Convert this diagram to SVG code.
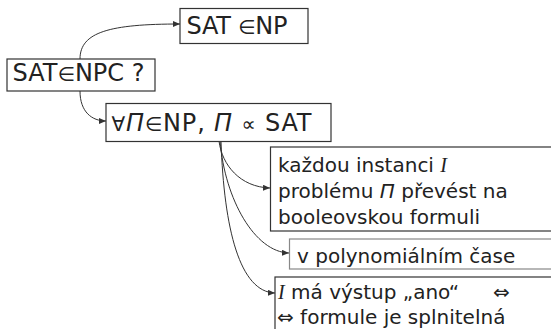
<svg xmlns="http://www.w3.org/2000/svg" width="551" height="329" viewBox="0 0 551 329">
<style>
.box{fill:#fff;stroke:#333;stroke-width:1.2}
.box2{fill:#fff;stroke:#888;stroke-width:1.2}
.t{font-family:"DejaVu Sans",Verdana,sans-serif;fill:#222}
.big{font-size:24px}
.sm{font-size:20px}
.sym{font-size:20px}
.it{font-style:italic}
.ser{font-family:"Liberation Serif","DejaVu Serif",serif;font-style:italic}
.c{fill:none;stroke:#333;stroke-width:1}
</style>
<defs>
<marker id="ah" markerWidth="7" markerHeight="6" refX="7" refY="3" orient="auto" markerUnits="userSpaceOnUse">
<path d="M0,0 L7,3 L0,6 z" fill="#333"/>
</marker>
</defs>
<g id="connectors">
<path class="c" d="M80,59 C80,32 110,24 180,24" marker-end="url(#ah)"/>
<path class="c" d="M80,91 C80,112 92,121 106,121" marker-end="url(#ah)"/>
<path class="c" d="M219,141 C222,165 240,187 270,188" marker-end="url(#ah)"/>
<path class="c" d="M220,141 C225,200 255,252 289,253" marker-end="url(#ah)"/>
<path class="c" d="M221,141 C224,230 240,292 275,293" marker-end="url(#ah)"/>
</g>
<g id="n1">
<rect class="box" x="180" y="8.5" width="128" height="35"/>
<text class="t big" x="186.5" y="34" textLength="101" lengthAdjust="spacing">SAT <tspan class="sym">∈</tspan>NP</text>
</g>
<g id="n2">
<rect class="box" x="7" y="59" width="148" height="32"/>
<text class="t big" x="12.5" y="81" textLength="132" lengthAdjust="spacing">SAT<tspan class="sym">∈</tspan>NPC ?</text>
</g>
<g id="n3">
<rect class="box" x="106" y="103.5" width="225" height="38"/>
<text class="t big" x="111.5" y="131" textLength="200" lengthAdjust="spacing"><tspan class="sym">∀</tspan><tspan class="it">Π</tspan><tspan class="sym">∈</tspan>NP, <tspan class="it">Π</tspan> <tspan class="sym">∝</tspan> SAT</text>
</g>
<g id="n4">
<rect class="box" x="270.5" y="147" width="290" height="84"/>
<text class="t sm" x="278" y="172">každou instanci <tspan class="ser">I</tspan></text>
<text class="t sm" x="278" y="198">problému <tspan class="it">Π</tspan> převést na</text>
<text class="t sm" x="278" y="223.5">booleovskou formuli</text>
</g>
<g id="n5">
<rect class="box2" x="289.5" y="239" width="270" height="30"/>
<text class="t sm" x="297" y="262.5">v polynomiálním čase</text>
</g>
<g id="n6">
<rect class="box" x="275" y="277" width="290" height="60"/>
<text class="t sm" x="278" y="298.5"><tspan class="ser">I</tspan> má výstup „ano“</text>
<text class="t sym" x="493" y="298.5">⇔</text>
<text class="t sm" x="277" y="323.5"><tspan class="sym">⇔</tspan> formule je splnitelná</text>
</g>
</svg>
